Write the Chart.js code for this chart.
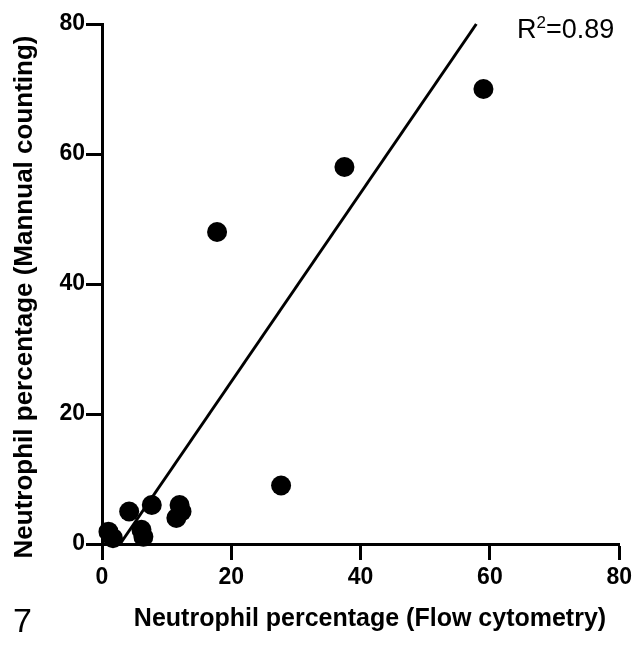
<!DOCTYPE html>
<html>
<head>
<meta charset="utf-8">
<script src="https://cdn.jsdelivr.net/npm/chart.js@4.4.1/dist/chart.umd.min.js"></script>
<style>
  html, body { margin: 0; padding: 0; background: #fff; }
  canvas { display: block; }
</style>
</head>
<body>
<canvas id="chart" width="636" height="647"></canvas>
<script>
// values
const flowX   = [59, 37.5, 17.8, 27.7, 7.7, 12.0, 12.3, 11.5, 4.2, 6.1, 6.4, 1.0, 1.7];
const manualY = [70, 58,   48,   9,    6,   6,    5,    4,    5,   2.2, 1.1, 1.9, 0.9];
const fitX = [2.8, 57.9];
const fitY = [0, 80];
const tickValues = [0, 20, 40, 60, 80];

const xTitle = 'Neutrophil percentage (Flow cytometry)';
const yTitle = 'Neutrophil percentage (Mannual counting)';
const panelLabel = '7';

const FONT = '"Liberation Sans", Arial, sans-serif';

const textPlugin = {
  id: 'texts',
  afterDraw(chart) {
    const ctx = chart.ctx;
    ctx.save();
    ctx.fillStyle = '#000';
    // x title
    ctx.font = 'bold 25px ' + FONT;
    ctx.textAlign = 'center';
    ctx.textBaseline = 'alphabetic';
    ctx.fillText(xTitle, 370, 626);
    // y title
    ctx.save();
    ctx.translate(32, 297);
    ctx.rotate(-Math.PI / 2);
    ctx.font = 'bold 26px ' + FONT;
    ctx.fillText(yTitle, 0, 0);
    ctx.restore();
    // panel label
    ctx.font = '34px ' + FONT;
    ctx.textAlign = 'left';
    ctx.fillText(panelLabel, 13, 632);
    // R squared
    ctx.font = '27px ' + FONT;
    ctx.fillText('R', 517, 38);
    let w = ctx.measureText('R').width;
    ctx.font = '17px ' + FONT;
    ctx.fillText('2', 517 + w, 28);
    w += ctx.measureText('2').width;
    ctx.font = '27px ' + FONT;
    ctx.fillText('=0.89', 517 + w, 38);
    ctx.restore();
  }
};

const axisCommon = {
  type: 'linear',
  min: 0,
  max: 80,
  border: { display: true, color: '#000', width: 3 },
  grid: { drawOnChartArea: false, drawTicks: true, tickLength: 16, tickWidth: 3, tickColor: '#000' },
  afterBuildTicks: (s) => { s.ticks = tickValues.map(v => ({ value: v })); }
};
const tickFont = { family: FONT, size: 23, weight: 'bold' };

new Chart(document.getElementById('chart'), {
  type: 'scatter',
  data: {
    datasets: [
      {
        type: 'line',
        data: fitX.map((x, i) => ({ x, y: fitY[i] })),
        borderColor: '#000',
        borderWidth: 3,
        pointRadius: 0,
        fill: false,
        clip: false
      },
      {
        data: flowX.map((x, i) => ({ x, y: manualY[i] })),
        backgroundColor: '#000',
        borderColor: '#000',
        pointRadius: 10,
        borderWidth: 0,
        clip: false
      }
    ]
  },
  options: {
    responsive: false,
    animation: false,
    layout: { padding: { left: 0, top: 24, right: 16, bottom: 0 } },
    plugins: { legend: { display: false }, tooltip: { enabled: false } },
    scales: {
      x: { ...axisCommon, position: 'bottom',
           ticks: { color: '#000', font: tickFont, padding: 4 },
           afterFit: (s) => { s.height = 103; } },
      y: { ...axisCommon, position: 'left',
           ticks: { color: '#000', font: tickFont, padding: 1 },
           afterFit: (s) => { s.width = 102; } }
    }
  },
  plugins: [textPlugin]
});
</script>
</body>
</html>
